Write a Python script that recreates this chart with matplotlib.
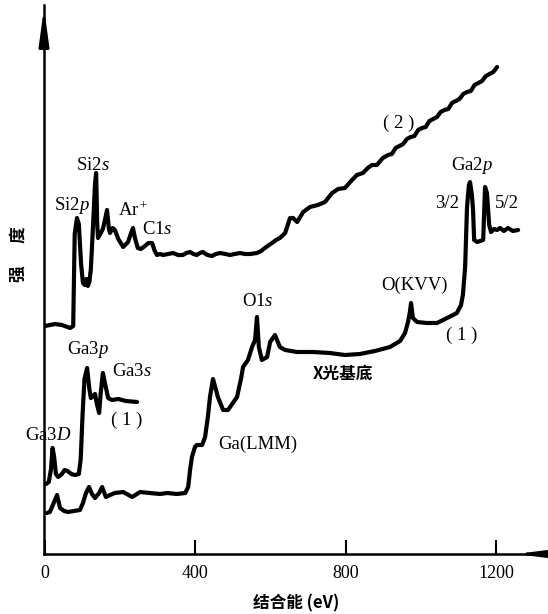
import matplotlib
matplotlib.use("Agg")
import matplotlib.pyplot as plt

# fonts: serif for the latin labels, CJK for the chinese ones
plt.rcParams['font.family'] = ['Liberation Serif', 'Noto Sans CJK SC']
plt.rcParams['mathtext.fontset'] = 'custom'
plt.rcParams['mathtext.rm'] = 'Liberation Serif'
plt.rcParams['mathtext.it'] = 'Liberation Serif:italic'

# curve (2): upper spectrum (binding energy eV, intensity a.u.)
e2 = [0, 27, 45, 67, 75, 79, 85, 90, 96, 101, 106, 110, 114, 118, 122, 128, 133, 136,
      139, 141, 147, 154, 160, 165, 170, 173, 180, 186, 195, 208, 221, 230, 234, 240,
      247, 255, 266, 275, 285, 292, 298, 306, 314, 328, 341, 354, 367, 376, 386, 395,
      404, 412, 420, 432, 444, 455, 466, 480, 492, 505, 519, 532, 546, 564, 575, 585,
      604, 615, 625, 639, 652, 660, 671, 687, 705, 726, 745, 764, 780, 798, 817, 830,
      846, 859, 870, 883, 899, 913, 923, 933, 943, 953, 963, 973, 983, 993, 1003, 1013,
      1023, 1033, 1043, 1053, 1063, 1073, 1083, 1093, 1103, 1113, 1123, 1133, 1143,
      1153, 1163, 1173, 1183, 1193, 1203]
i2 = [228, 230, 229, 226, 228, 320, 336, 330, 290, 271, 269, 275, 268, 272, 285, 330, 370, 381,
      330, 316, 320, 325, 335, 344, 325, 321, 326, 324, 315, 307, 312, 322, 326, 315,
      306, 305, 308, 311, 311, 303, 299, 300, 299, 300, 301, 299, 299, 301, 302, 300,
      299, 301, 302, 299, 298, 300, 301, 300, 299, 300, 301, 300, 300, 301, 303, 306,
      311, 314, 316, 321, 336, 336, 332, 342, 347, 349, 352, 361, 365, 366, 374, 379,
      381, 386, 389, 389, 396, 399, 400, 406, 408, 410, 415, 417, 418, 424, 426, 427,
      433, 435, 437, 442, 444, 445, 451, 453, 455, 460, 462, 463, 469,
      471, 473, 478, 480, 482, 487]

# curve (1): lower main spectrum
e1 = [5, 13, 21, 32, 40, 51, 61, 77, 93, 101, 109, 117, 125, 133, 144, 152, 162, 173,
      186, 208, 232, 253, 279, 306, 325, 351, 373, 381, 386, 391, 399, 404, 418, 426,
      434, 439, 447, 455, 460, 474, 487, 498, 511, 522, 527, 540, 551, 559, 564, 569,
      577, 591, 599, 612, 625, 639, 671, 713, 758, 798, 838, 878, 918, 945, 958, 966,
      971, 974, 979, 990, 1016, 1043, 1070, 1096, 1107, 1112, 1118, 1123, 1128, 1131,
      1136, 1139, 1142, 1150, 1166, 1171, 1176, 1182, 1187, 1195, 1203, 1211, 1221,
      1232, 1245, 1259]
i1 = [41, 42, 49, 59, 46, 43, 42, 43, 44, 51, 61, 67, 60, 56, 61, 67, 57, 59,
      61, 62, 57, 62, 61, 60, 61, 60, 61, 67, 84, 97, 107, 109, 109, 117,
      139, 157, 175, 164, 157, 144, 144, 150, 157, 176, 187, 194, 207, 214, 237, 207,
      194, 197, 212, 219, 207, 204, 202, 202, 201, 199, 200, 203, 207, 213, 221, 232,
      242, 251, 236, 232, 231, 231, 236, 241, 249, 259, 287, 347, 369, 372,
      359, 344, 314, 312, 314, 367, 361, 329, 322, 325, 324, 326, 323,
      326, 323, 324]

# curve (1) inset: low energy part, expanded
e1s = [3, 10, 16, 20, 24, 29, 35, 45, 52, 60, 70, 80, 90, 95, 100, 105, 112, 118, 122,
       128, 133, 138, 144, 148, 154, 160, 168, 178, 195, 215, 245]
i1s = [70, 72, 85, 106, 98, 80, 77, 80, 84, 83, 80, 79, 80, 95, 140, 175, 186, 165, 156,
       158, 160, 150, 141, 160, 181, 170, 156, 154, 155, 153, 152]

xticks = [0, 400, 800, 1200]

# peak labels: text, eV, intensity
labels = [
    (r'Si2$\mathit{p}$', 72, 348),
    (r'Si2$\mathit{s}$', 128, 389),
    (r'Ar$^+$', 234, 343),
    (r'C1$\mathit{s}$', 298, 325),
    (r'O1$\mathit{s}$', 567, 253),
    ('( 2 )', 942, 431),
    (r'Ga2$\mathit{p}$', 1136, 389),
    ('3/2', 1070, 351),
    ('5/2', 1229, 351),
    ('O(KVV)', 982, 269),
    ('( 1 )', 1110, 219),
    (r'Ga3$\mathit{p}$', 114, 204),
    (r'Ga3$\mathit{s}$', 232, 182),
    ('( 1 )', 218, 134),
    (r'Ga3$\mathit{D}$', 8, 119),
    ('Ga(LMM)', 567, 110),
]

fig = plt.figure(figsize=(5.48, 6.14), dpi=100)
ax = fig.add_axes([44/548, 60/614, 504/548, 549/614])

kw = dict(color='black', lw=3.0, solid_joinstyle='round', solid_capstyle='round')
ax.plot(e2, i2, **kw)
ax.plot(e1, i1, **kw)
ax.plot(e1s, i1s, **kw)

for txt, x, y in labels:
    ax.text(x, y, txt, fontsize=13.5, ha='center', va='center')

ax.text(793, 180, 'X光基底', fontsize=12, fontweight='bold', ha='center', va='center',
        family=['Noto Sans CJK SC'])

ax.set_xlim(-2.7, 1338.5)
ax.set_ylim(0, 549)
ax.set_xticks(xticks)
ax.set_xticklabels([str(t) for t in xticks], fontsize=13)
ax.set_yticks([])
ax.tick_params(axis='x', direction='in', length=10, width=1.5, pad=8)

for s in ['top', 'right']:
    ax.spines[s].set_visible(False)
ax.spines['left'].set_linewidth(1.8)
ax.spines['bottom'].set_linewidth(1.8)

# axis arrows
ax.annotate('', xy=(0, 1.0), xytext=(0, 0.93), xycoords='axes fraction',
            arrowprops=dict(arrowstyle='-|>,head_length=2.2,head_width=0.3', lw=2, color='black'))
ax.annotate('', xy=(0.93, 0), xytext=(1.0, 0), xycoords='axes fraction',
            arrowprops=dict(arrowstyle='-|>,head_length=2.0,head_width=0.25', lw=2, color='black'))

ax.set_xlabel('结合能 (eV)', fontsize=12, fontweight='bold', family=['Noto Sans CJK SC', 'DejaVu Sans'],
              labelpad=9)
fig.text(19/548, 1 - 254/614, '强      度', rotation=90, fontsize=12, fontweight='bold',
         ha='center', va='center', family=['Noto Sans CJK SC'])

fig.savefig('out.png', dpi=100)
